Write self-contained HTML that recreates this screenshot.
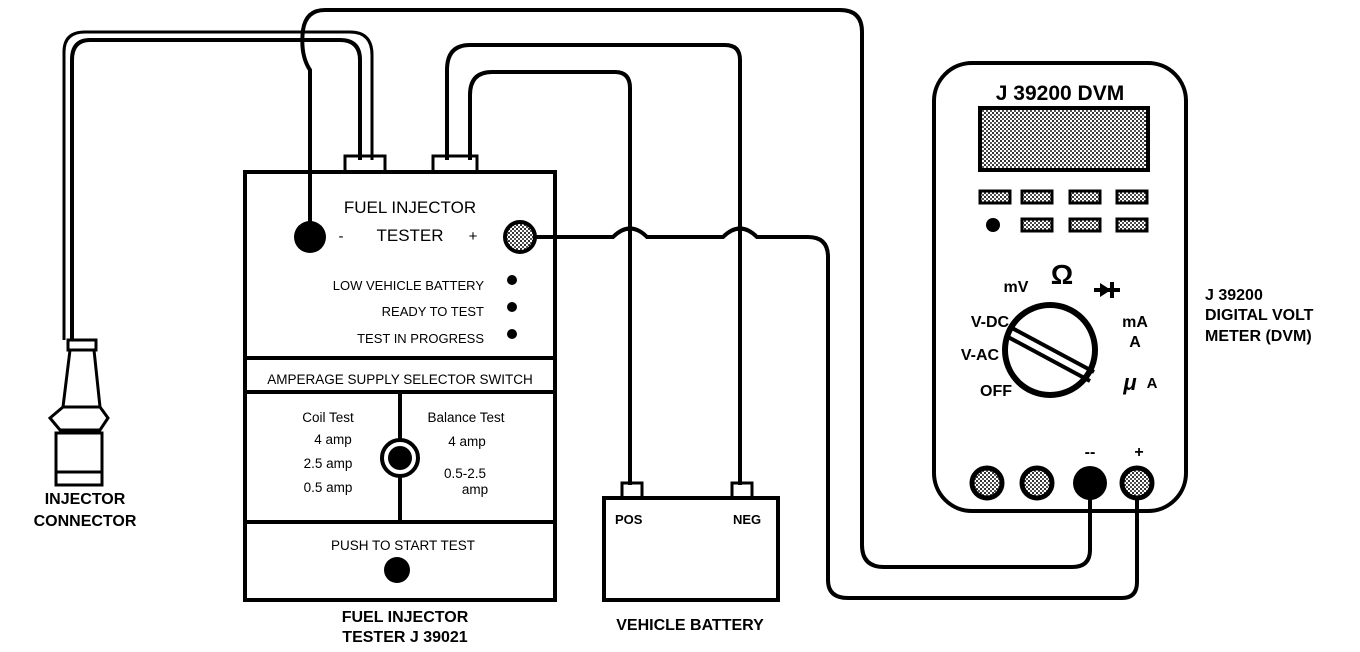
<!DOCTYPE html>
<html><head><style>
body{margin:0;background:#fff;}
svg{display:block;font-family:"Liberation Sans",sans-serif;}
.b{font-weight:bold;}
</style></head><body>
<svg width="1360" height="652" viewBox="0 0 1360 652">
<defs>
<pattern id="dots" width="4" height="4" patternUnits="userSpaceOnUse">
<rect width="4" height="4" fill="#fff"/><rect width="2" height="2" fill="#333"/><rect x="2" y="2" width="2" height="2" fill="#555"/>
</pattern>
</defs>
<g fill="none" stroke="#000" stroke-width="4">
<path d="M360 160 V60 Q360 40 340 40 H90 Q72 40 72 60 V340"/>
<path d="M372 160 V55 Q372 32 350 32 H85 Q64 32 64 52 V340" stroke-width="3"/>
<path d="M310 237 V70 Q300 55 303 30 Q306 10 325 10 H840 Q862 10 862 32 V545 Q862 567 884 567 H1072 Q1090 567 1090 550 V482"/>
<path d="M447 160 V70 Q447 45 470 45 H725 Q740 45 740 60 V485"/>
<path d="M470 160 V95 Q470 72 492 72 H615 Q630 72 630 88 V485"/>
<path d="M520 237 H613 Q630 220 647 237 H723 Q740 220 757 237 H808 Q828 237 828 257 V580 Q828 598 848 598 H1122 Q1137 598 1137 582 V482"/>
<rect x="245" y="172" width="310" height="428"/>
<line x1="245" y1="358" x2="555" y2="358"/>
<line x1="245" y1="392" x2="555" y2="392"/>
<line x1="245" y1="522" x2="555" y2="522"/>
<line x1="400" y1="392" x2="400" y2="522"/>
<rect x="345" y="156" width="40" height="16" stroke-width="3"/>
<rect x="433" y="156" width="44" height="16" stroke-width="3"/>
<rect x="604" y="498" width="174" height="102"/>
<rect x="622" y="483" width="20" height="15" stroke-width="3"/>
<rect x="732" y="483" width="20" height="15" stroke-width="3"/>
<rect x="68" y="340" width="28" height="10" stroke-width="3"/>
<path d="M70 350 L63 407 H100 L94 350 Z" stroke-width="3"/>
<path d="M63 407 L50 418 L60 430 H100 L108 418 L100 407" stroke-width="3"/>
<rect x="56" y="433" width="46" height="52" stroke-width="3"/>
<line x1="56" y1="472" x2="102" y2="472" stroke-width="3"/>
<rect x="934" y="63" width="252" height="448" rx="38"/>
<rect x="980" y="108" width="168" height="62" fill="url(#dots)"/>
<circle cx="1050" cy="350" r="45" stroke-width="6" fill="#fff"/>
</g>
<g stroke="#000" stroke-width="4">
<line x1="1012" y1="328" x2="1094" y2="372"/>
<line x1="1008" y1="337" x2="1090" y2="381"/>
<line x1="1094" y1="290" x2="1120" y2="290"/>
<line x1="1112" y1="282" x2="1112" y2="298"/>
</g>
<path d="M1100 283 L1111 290 L1100 297 Z" fill="#000"/>
<circle cx="310" cy="237" r="16" fill="#000"/>
<circle cx="520" cy="237" r="15" fill="url(#dots)" stroke="#000" stroke-width="4"/>
<circle cx="512" cy="280" r="5"/><circle cx="512" cy="307" r="5"/><circle cx="512" cy="334" r="5"/>
<circle cx="400" cy="458" r="18" fill="#fff" stroke="#000" stroke-width="4"/>
<circle cx="400" cy="458" r="12" fill="#000"/>
<circle cx="397" cy="570" r="13" fill="#000"/>
<g fill="url(#dots)" stroke="#000" stroke-width="3">
<rect x="980" y="191" width="30" height="12"/><rect x="1022" y="191" width="30" height="12"/><rect x="1070" y="191" width="30" height="12"/><rect x="1117" y="191" width="30" height="12"/>
<rect x="1022" y="219" width="30" height="12"/><rect x="1070" y="219" width="30" height="12"/><rect x="1117" y="219" width="30" height="12"/>
<circle cx="987" cy="483" r="15" stroke-width="5"/><circle cx="1037" cy="483" r="15" stroke-width="5"/><circle cx="1137" cy="483" r="15" stroke-width="5"/>
</g>
<circle cx="993" cy="225" r="7"/>
<circle cx="1090" cy="483" r="17"/>
<g font-size="15" text-anchor="middle">
<text x="410" y="213" font-size="17">FUEL INJECTOR</text>
<text x="410" y="241" font-size="17">TESTER</text>
<text x="341" y="241">-</text><text x="473" y="241">+</text>
<g text-anchor="end" font-size="13">
<text x="484" y="290">LOW VEHICLE BATTERY</text>
<text x="484" y="316">READY TO TEST</text>
<text x="484" y="343">TEST IN PROGRESS</text>
</g>
<text x="400" y="384" font-size="13.5">AMPERAGE SUPPLY SELECTOR SWITCH</text>
<text x="328" y="422" font-size="13.5">Coil Test</text>
<text x="333" y="444" font-size="13.5">4 amp</text>
<text x="328" y="468" font-size="13.5">2.5 amp</text>
<text x="328" y="492" font-size="13.5">0.5 amp</text>
<text x="466" y="422" font-size="13.5">Balance Test</text>
<text x="467" y="446" font-size="13.5">4 amp</text>
<text x="465" y="478" font-size="13.5">0.5-2.5</text>
<text x="475" y="494" font-size="13.5">amp</text>
<text x="403" y="550" font-size="13.5">PUSH TO START TEST</text>
<text x="405" y="622" class="b" font-size="16">FUEL INJECTOR</text>
<text x="405" y="642" class="b" font-size="16">TESTER J 39021</text>
<text x="85" y="504" class="b" font-size="16">INJECTOR</text>
<text x="85" y="526" class="b" font-size="16">CONNECTOR</text>
<text x="690" y="630" class="b" font-size="16">VEHICLE BATTERY</text>
<text x="1060" y="100" class="b" font-size="21">J 39200 DVM</text>
<text x="1016" y="292" class="b" font-size="16">mV</text>
<text x="1062" y="284" class="b" font-size="28">Ω</text>
<text x="990" y="327" class="b" font-size="16">V-DC</text>
<text x="980" y="360" class="b" font-size="16">V-AC</text>
<text x="996" y="396" class="b" font-size="16">OFF</text>
<text x="1135" y="327" class="b" font-size="16">mA</text>
<text x="1135" y="347" class="b" font-size="16">A</text>
<text x="1130" y="390" class="b" font-size="22" font-style="italic">μ</text><text x="1152" y="388" class="b" font-size="15">A</text>
<text x="1090" y="457" class="b" font-size="16">--</text>
<text x="1139" y="457" class="b" font-size="16">+</text>
</g>
<g class="b" font-size="16">
<text x="1205" y="300">J 39200</text>
<text x="1205" y="320">DIGITAL VOLT</text>
<text x="1205" y="341">METER (DVM)</text>
<text x="615" y="524" font-size="13">POS</text>
<text x="733" y="524" font-size="13">NEG</text>
</g>
</svg>
</body></html>
